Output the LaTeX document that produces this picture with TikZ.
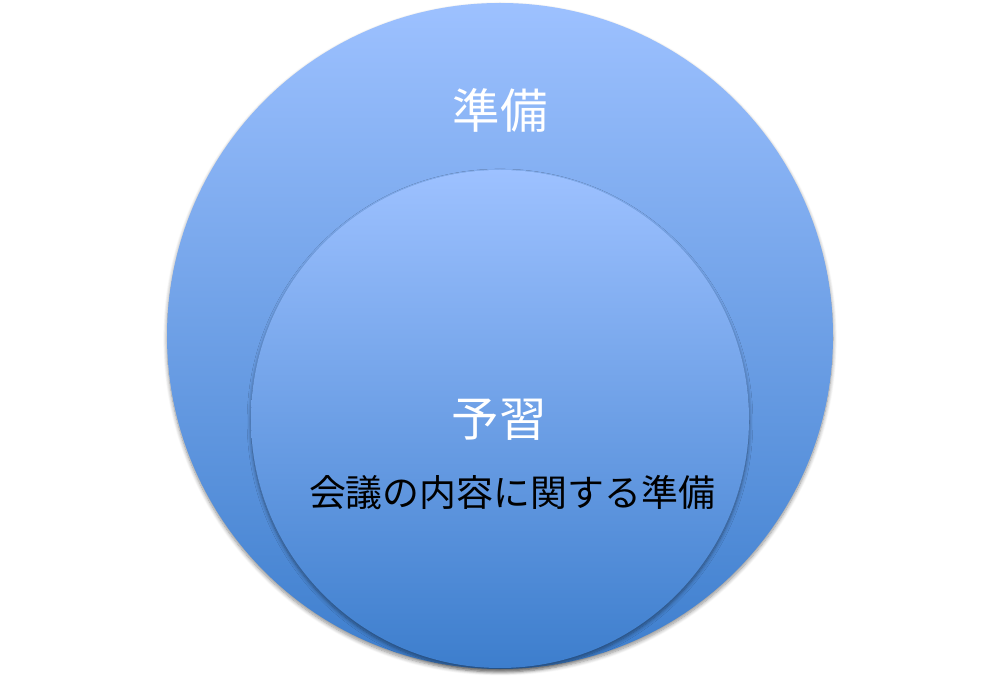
\documentclass[tikz,border=0pt]{standalone}
\usepackage{fontspec}
\newfontfamily\jpfont{Noto Sans CJK JP}
\usepackage{xcolor}
\usepackage{tikz}
\usetikzlibrary{positioning,shadows.blur}
\definecolor{balltop}{RGB}{157,193,255}
\definecolor{ballbottom}{RGB}{61,126,205}

\begin{document}
\begin{tikzpicture}[every node/.style={font=\jpfont,inner sep=0pt},
  ball/.style={circle,draw=none,shading=axis,top color=balltop,bottom color=ballbottom,
    blur shadow={shadow xshift=0pt,shadow yshift=-1.6pt,shadow blur radius=2.2pt,shadow blur steps=8,shadow opacity=45}}]
  % Canvas of the reference: 1000 x 681 px, 1px = 0.02cm
  \useasboundingbox (0,0) rectangle (20,13.62);

  % Two nested circles, both touching near the bottom
\node[ball,minimum size=13.32cm] (outer) at (10,6.9) {};
\node[ball,minimum size=9.96cm] (inner) at (10,5.24) {};

  % Labels
\node[text=white,font=\jpfont\fontsize{27pt}{30pt}\selectfont] (prep) at (10,11.42) {準備};
\node[text=white,font=\jpfont\fontsize{27pt}{30pt}\selectfont] (review) at (9.98,5.22) {予習};
\node[text=black,font=\jpfont\fontsize{21pt}{24pt}\selectfont] (content) at (10.24,3.76) {会議の内容に関する準備};
\end{tikzpicture}
\end{document}
